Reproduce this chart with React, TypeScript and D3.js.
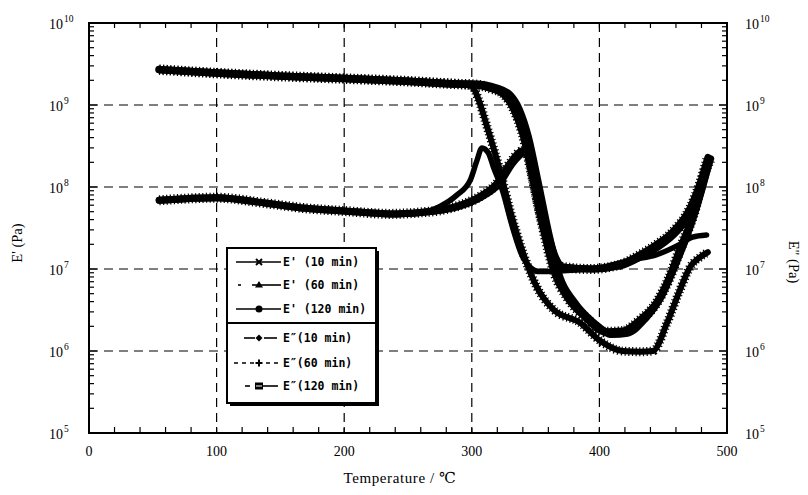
import React from 'react';
import * as d3 from 'd3';

const W = 808;
const H = 495;

const xTicks = [0, 100, 200, 300, 400, 500];
const xGrid = [100, 200, 300, 400];
const yExps = [5, 6, 7, 8, 9, 10];
const yGridExps = [6, 7, 8, 9];

// Storage modulus E' (Pa)
const tEp10 = [55, 100, 150, 200, 250, 290, 300, 305, 312, 322, 330, 340, 351, 364, 385, 400, 418, 432, 442, 453, 463, 471, 479, 485];
const vEp10 = [2.7e9, 2.45e9, 2.25e9, 2.1e9, 1.95e9, 1.8e9, 1.7e9, 1.2e9, 5.4e8, 1.6e8, 5.2e7, 1.6e7, 6.0e6, 3.2e6, 2.2e6, 1.35e6, 1.0e6, 9.8e5, 1.0e6, 2.2e6, 5.5e6, 1.05e7, 1.4e7, 1.6e7];

const tEp60 = [55, 100, 150, 200, 250, 290, 300, 315, 325, 333, 340, 348, 356, 365, 375, 390, 405, 418, 432, 445, 455, 463, 473, 484, 487];
const vEp60 = [2.7e9, 2.45e9, 2.25e9, 2.1e9, 1.95e9, 1.8e9, 1.78e9, 1.6e9, 1.35e9, 8.9e8, 4.5e8, 1.26e8, 3.2e7, 8.9e6, 4.5e6, 2.5e6, 1.7e6, 1.74e6, 2.4e6, 3.9e6, 7.9e6, 1.7e7, 4.3e7, 1.74e8, 2.2e8];

const tEp120 = [55, 100, 150, 200, 250, 290, 300, 320, 330, 337, 344, 352, 360, 369, 380, 395, 410, 422, 436, 448, 458, 467, 476, 486];
const vEp120 = [2.7e9, 2.45e9, 2.25e9, 2.1e9, 1.95e9, 1.8e9, 1.8e9, 1.6e9, 1.32e9, 8.9e8, 4.2e8, 1.12e8, 2.8e7, 7.9e6, 4.0e6, 2.24e6, 1.6e6, 1.66e6, 2.5e6, 4.5e6, 1.0e7, 2.2e7, 5.6e7, 2.0e8];

// Loss modulus E'' (Pa)
const tEpp10 = [55, 100, 140, 170, 200, 236, 260, 275, 288, 299, 304, 308, 313, 317, 324, 332, 340, 353, 370, 398, 426, 445, 463, 473, 484];
const vEpp10 = [6.9e7, 7.4e7, 6.3e7, 5.5e7, 5.1e7, 4.7e7, 4.9e7, 5.8e7, 7.9e7, 1.23e8, 2.1e8, 3.0e8, 2.6e8, 1.74e8, 9.1e7, 3.2e7, 1.4e7, 9.3e6, 9.5e6, 1.02e7, 1.3e7, 1.5e7, 2.0e7, 2.45e7, 2.6e7];

const tEpp60 = [55, 100, 140, 170, 200, 236, 260, 275, 288, 306, 320, 330, 338, 342, 345, 348, 353, 359, 364, 370, 393, 415, 432, 445, 458, 471, 479, 485];
const vEpp60 = [6.9e7, 7.4e7, 6.3e7, 5.5e7, 5.1e7, 4.7e7, 4.9e7, 5.2e7, 5.8e7, 7.6e7, 1.12e8, 1.95e8, 2.7e8, 2.8e8, 2.3e8, 1.3e8, 5.2e7, 2.45e7, 1.4e7, 1.07e7, 1.0e7, 1.12e7, 1.5e7, 2.0e7, 2.9e7, 5.5e7, 1.12e8, 2.3e8];

const tEpp120 = [55, 100, 140, 170, 200, 236, 260, 275, 290, 308, 322, 332, 340, 344, 347, 350, 355, 361, 366, 372, 395, 417, 434, 447, 460, 472, 480, 486];
const vEpp120 = [6.9e7, 7.4e7, 6.3e7, 5.5e7, 5.1e7, 4.7e7, 4.9e7, 5.2e7, 5.8e7, 7.6e7, 1.12e8, 1.95e8, 2.6e8, 2.75e8, 2.2e8, 1.25e8, 5.0e7, 2.3e7, 1.35e7, 1.05e7, 1.0e7, 1.1e7, 1.45e7, 1.9e7, 2.8e7, 5.0e7, 1.0e8, 2.0e8];

const legendLabels = ["E' (10 min)", "E' (60 min)", "E' (120 min)", "E\u2033(10 min)", "E\u2033(60 min)", "E\u2033(120 min)"];

const series = [
  { t: tEp10, v: vEp10, w: 6, hatch: true },
  { t: tEp60, v: vEp60, w: 7.5, hatch: true },
  { t: tEp120, v: vEp120, w: 7.5, hatch: false },
  { t: tEpp10, v: vEpp10, w: 5.5, hatch: false },
  { t: tEpp60, v: vEpp60, w: 7, hatch: true },
  { t: tEpp120, v: vEpp120, w: 7, hatch: false },
];

const L = 89, R = 727, T = 23, B = 433;

export default function App() {
  const x = d3.scaleLinear().domain([0, 500]).range([L, R]);
  const y = d3.scaleLog().domain([1e5, 1e10]).range([B, T]);
  const line = d3
    .line<[number, number]>()
    .x((d) => x(d[0]))
    .y((d) => y(d[1]))
    .curve(d3.curveMonotoneX);

  const minorY: number[] = [];
  for (let e = 5; e < 10; e++) for (let m = 2; m <= 9; m++) minorY.push(m * Math.pow(10, e));
  const minorX = d3.range(20, 500, 20);

  const serif = "'Liberation Serif', 'DejaVu Serif', serif";
  const mono = "'DejaVu Sans Mono', 'Liberation Mono', monospace";

  const lx0 = 227, ly0 = 248, lw = 149, lh = 155;
  const rowY = [262, 285, 309, 338, 363, 386];

  const marker = (i: number, cx: number, cy: number) => {
    switch (i) {
      case 0:
        return (
          <g stroke="#000" strokeWidth={2}>
            <line x1={cx - 3} y1={cy - 3} x2={cx + 3} y2={cy + 3} />
            <line x1={cx - 3} y1={cy + 3} x2={cx + 3} y2={cy - 3} />
          </g>
        );
      case 1:
        return <path d={`M${cx},${cy - 4}L${cx + 4},${cy + 2.5}L${cx - 4},${cy + 2.5}Z`} fill="#000" />;
      case 2:
        return <circle cx={cx} cy={cy} r={3.5} fill="#000" />;
      case 3:
        return <path d={`M${cx},${cy - 3.5}L${cx + 3.5},${cy}L${cx},${cy + 3.5}L${cx - 3.5},${cy}Z`} fill="#000" />;
      case 4:
        return (
          <g stroke="#000" strokeWidth={2}>
            <line x1={cx - 3.5} y1={cy} x2={cx + 3.5} y2={cy} />
            <line x1={cx} y1={cy - 3.5} x2={cx} y2={cy + 3.5} />
          </g>
        );
      default:
        return (
          <g>
            <rect x={cx - 4} y={cy - 3.5} width={8} height={7} fill="#000" />
            <line x1={cx - 3} y1={cy} x2={cx + 3} y2={cy} stroke="#fff" strokeWidth={1} />
          </g>
        );
    }
  };

  const legendLine = (i: number, cy: number) => {
    const x1 = 236, x2 = 281;
    if (i === 1) {
      return (
        <g stroke="#000" strokeWidth={1.6}>
          <line x1={238} y1={cy} x2={241} y2={cy} />
          <line x1={252} y1={cy} x2={x2} y2={cy} />
        </g>
      );
    }
    if (i === 3) {
      return (
        <g stroke="#000" strokeWidth={1.6}>
          <line x1={244} y1={cy} x2={255} y2={cy} />
          <line x1={264} y1={cy} x2={277} y2={cy} />
        </g>
      );
    }
    if (i === 4) {
      return <line x1={234} y1={cy} x2={281} y2={cy} stroke="#000" strokeWidth={1.4} strokeDasharray="4 4" />;
    }
    if (i === 5) {
      return (
        <g stroke="#000" strokeWidth={1.6}>
          <line x1={245} y1={cy} x2={250} y2={cy} />
          <line x1={263} y1={cy} x2={278} y2={cy} />
        </g>
      );
    }
    return <line x1={x1} y1={cy} x2={x2} y2={cy} stroke="#000" strokeWidth={1.6} />;
  };

  return (
    <svg width={W} height={H} style={{ position: 'absolute', left: 0, top: 0, background: '#fff' }}>
      <rect x={0} y={0} width={W} height={H} fill="#fff" />
      {/* grid */}
      <g stroke="#000" strokeWidth={1.2} strokeDasharray="9 6">
        {xGrid.map((v) => (
          <line key={'gx' + v} x1={x(v)} x2={x(v)} y1={T} y2={B} />
        ))}
        {yGridExps.map((e) => (
          <line key={'gy' + e} x1={L} x2={R} y1={y(Math.pow(10, e))} y2={y(Math.pow(10, e))} />
        ))}
      </g>
      {/* ticks */}
      <g stroke="#000" strokeWidth={1.2}>
        {minorY.map((v, i) => (
          <g key={'my' + i}>
            <line x1={L} x2={L + 5} y1={y(v)} y2={y(v)} />
            <line x1={R} x2={R - 5} y1={y(v)} y2={y(v)} />
          </g>
        ))}
        {yExps.map((e) => (
          <g key={'My' + e}>
            <line x1={L} x2={L + 8} y1={y(Math.pow(10, e))} y2={y(Math.pow(10, e))} />
            <line x1={R} x2={R - 8} y1={y(Math.pow(10, e))} y2={y(Math.pow(10, e))} />
          </g>
        ))}
        {minorX.map((v) => (
          <g key={'mx' + v}>
            <line x1={x(v)} x2={x(v)} y1={B} y2={B - 6} />
            <line x1={x(v)} x2={x(v)} y1={T} y2={T + 5} />
          </g>
        ))}
      </g>
      {/* curves */}
      <g fill="none" stroke="#000" strokeLinejoin="round" strokeLinecap="round">
        {series.map((s, i) => {
          const d = line(s.t.map((t, j) => [t, s.v[j]] as [number, number])) || '';
          return (
            <g key={'s' + i}>
              <path d={d} strokeWidth={s.w} />
              {s.hatch && <path d={d} strokeWidth={s.w + 3} strokeDasharray="1.2 2.4" strokeLinecap="butt" />}
            </g>
          );
        })}
      </g>
      {/* frame */}
      <rect x={L} y={T} width={R - L} height={B - T} fill="none" stroke="#000" strokeWidth={2} />
      {/* labels */}
      <g fontFamily={serif} fontSize={14} fill="#000">
        {yExps.map((e) => (
          <g key={'yl' + e}>
            <text x={63} y={y(Math.pow(10, e)) + 6} textAnchor="end">
              10
            </text>
            <text x={64} y={y(Math.pow(10, e)) - 1} fontSize={9.5}>
              {e}
            </text>
            <text x={745} y={y(Math.pow(10, e)) + 6}>
              10
            </text>
            <text x={760} y={y(Math.pow(10, e)) - 1} fontSize={9.5}>
              {e}
            </text>
          </g>
        ))}
        {xTicks.map((v) => (
          <text key={'xl' + v} x={x(v)} y={456} textAnchor="middle">
            {v}
          </text>
        ))}
        <text x={400} y={483} textAnchor="middle" fontSize={15} letterSpacing={0.6}>
          Temperature / ℃
        </text>
        <text transform="translate(22,243) rotate(-90)" textAnchor="middle" fontSize={14.5}>
          E' (Pa)
        </text>
        <text transform="translate(789,262) rotate(90)" textAnchor="middle" fontSize={14.5}>
          E" (Pa)
        </text>
      </g>
      {/* legend */}
      <rect x={lx0 + 3} y={ly0 + 3} width={lw} height={lh} fill="#000" />
      <rect x={lx0} y={ly0} width={lw} height={lh} fill="#fff" stroke="#000" strokeWidth={2} />
      <line x1={lx0} x2={lx0 + lw} y1={323} y2={323} stroke="#000" strokeWidth={2} />
      <g fontFamily={mono} fontSize={11.5} fontWeight="bold" fill="#000">
        {legendLabels.map((lab, i) => (
          <g key={'lg' + i}>
            {legendLine(i, rowY[i])}
            {marker(i, 259, rowY[i])}
            <text x={283} y={rowY[i] + 4}>
              {lab}
            </text>
          </g>
        ))}
      </g>
    </svg>
  );
}
